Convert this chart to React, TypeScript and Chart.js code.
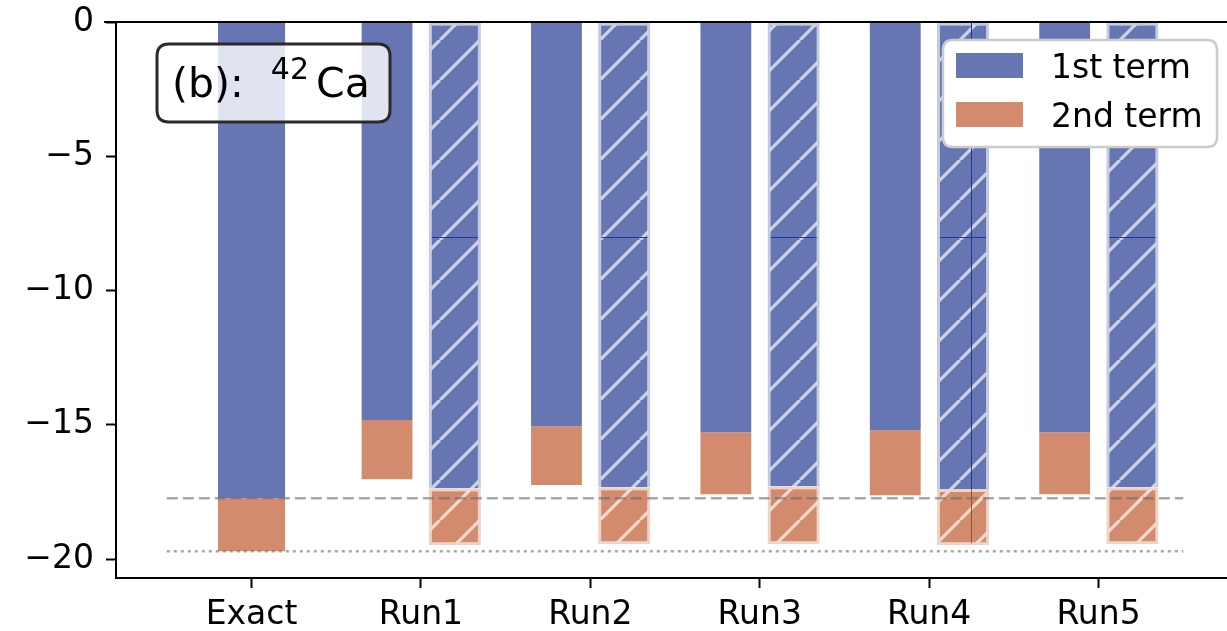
import { useEffect, useRef } from 'react';
import { Chart, registerables } from 'chart.js';

Chart.register(...registerables);

// Categories along the x axis
const categories = ['Exact', 'Run1', 'Run2', 'Run3', 'Run4', 'Run5'];

// Exact decomposition: first and second term
const exactFirst = -17.73;
const exactSecond = -1.97;

// Runs, plain bars (left of each run tick)
const runFirst = [-14.82, -15.05, -15.27, -15.2, -15.27];
const runSecond = [-2.2, -2.19, -2.31, -2.42, -2.31];

// Runs, hatched bars (right of each run tick)
const hatchFirst = [-17.36, -17.32, -17.28, -17.39, -17.32];
const hatchSecond = [-2.12, -2.12, -2.16, -2.09, -2.12];

const yTicks = [0, -5, -10, -15, -20];
const seriesLabels = ['1st term', '2nd term'];

// Panel tag: "(b): ^42Ca"
const panelTag = '(b):';
const isotopeMass = '42';
const isotopeSymbol = 'Ca';

// Thin inner rules seen on the hatched bars
const hatchRuleLevel = -8;
const hatchRuleX = 4.25;

// Offset of the paired bars from each run tick
const runOffset = 0.2;

const BLUE = 'rgb(102,118,178)';
const ORANGE = 'rgb(210,139,108)';
const BLUE_EDGE = 'rgb(196,202,225)';
const ORANGE_EDGE = 'rgb(238,211,199)';
const FONT = 'DejaVu Sans';
const TICK_SIZE = 33;

function makeHatch(base: string): CanvasPattern | string {
  const p = 40;
  const c = document.createElement('canvas');
  c.width = p;
  c.height = p;
  const g = c.getContext('2d');
  if (!g) return base;
  g.fillStyle = base;
  g.fillRect(0, 0, p, p);
  g.strokeStyle = 'rgba(255,255,255,0.68)';
  g.lineWidth = 3.2;
  g.beginPath();
  for (let k = -1; k <= 1; k++) {
    g.moveTo(k * p, p);
    g.lineTo(k * p + p, 0);
  }
  g.stroke();
  const pat = g.createPattern(c, 'repeat');
  return pat || base;
}

const minus = (v: number) => (v < 0 ? '\u2212' + Math.abs(v) : String(v));

function roundRect(ctx: CanvasRenderingContext2D, x: number, y: number, w: number, h: number, r: number) {
  ctx.beginPath();
  ctx.moveTo(x + r, y);
  ctx.lineTo(x + w - r, y);
  ctx.quadraticCurveTo(x + w, y, x + w, y + r);
  ctx.lineTo(x + w, y + h - r);
  ctx.quadraticCurveTo(x + w, y + h, x + w - r, y + h);
  ctx.lineTo(x + r, y + h);
  ctx.quadraticCurveTo(x, y + h, x, y + h - r);
  ctx.lineTo(x, y + r);
  ctx.quadraticCurveTo(x, y, x + r, y);
  ctx.closePath();
}

const decorPlugin = {
  id: 'decor',
  afterDatasetsDraw(chart: any) {
    const { ctx, scales } = chart;
    const xs = scales.x;
    const ys = scales.y;
    ctx.save();
    // horizontal inner rule across each hatched first-term bar
    const meta = chart.getDatasetMeta(6);
    const yr = Math.round(ys.getPixelForValue(hatchRuleLevel)) + 0.5;
    ctx.strokeStyle = 'rgb(35,55,155)';
    ctx.lineWidth = 1;
    meta.data.forEach((el: any) => {
      const { x, width } = el.getProps(['x', 'width'], true);
      ctx.beginPath();
      ctx.moveTo(x - width / 2 + 3, yr);
      ctx.lineTo(x + width / 2 - 3, yr);
      ctx.stroke();
    });
    // vertical inner rule through one hatched bar
    const i = Math.round(hatchRuleX - runOffset) - 1;
    const xv = Math.round(xs.getPixelForValue(hatchRuleX)) + 0.5;
    const yTop = ys.getPixelForValue(0);
    const yMid = ys.getPixelForValue(hatchFirst[i]);
    const yBot = ys.getPixelForValue(hatchFirst[i] + hatchSecond[i]);
    ctx.beginPath();
    ctx.moveTo(xv, yTop);
    ctx.lineTo(xv, yMid);
    ctx.stroke();
    ctx.strokeStyle = 'rgb(160,80,45)';
    ctx.beginPath();
    ctx.moveTo(xv, yMid);
    ctx.lineTo(xv, yBot - 2);
    ctx.stroke();
    ctx.restore();
  },
  afterDraw(chart: any) {
    const { ctx, chartArea, scales } = chart;
    const ys = scales.y;
    ctx.save();

    // top frame line at y = 0
    const y0 = Math.round(ys.getPixelForValue(0));
    ctx.strokeStyle = '#000';
    ctx.lineWidth = 2;
    ctx.beginPath();
    ctx.moveTo(chartArea.left - 12, y0);
    ctx.lineTo(chart.width, y0);
    ctx.stroke();

    // panel tag box
    const bx = chartArea.left + 41;
    const by = chartArea.top + 22;
    roundRect(ctx, bx, by, 233, 78, 12);
    ctx.fillStyle = 'rgba(255,255,255,0.8)';
    ctx.fill();
    ctx.strokeStyle = '#2a2a2a';
    ctx.lineWidth = 3;
    ctx.stroke();
    ctx.fillStyle = '#000';
    ctx.textBaseline = 'alphabetic';
    ctx.textAlign = 'left';
    ctx.font = `41px "${FONT}"`;
    let tx = bx + 15;
    const base = by + 53;
    ctx.fillText(panelTag, tx, base);
    tx += ctx.measureText(panelTag).width + 27;
    ctx.font = `30px "${FONT}"`;
    ctx.fillText(isotopeMass, tx, base - 18);
    tx += ctx.measureText(isotopeMass).width + 7;
    ctx.font = `41px "${FONT}"`;
    ctx.fillText(isotopeSymbol, tx, base);

    // legend
    const lx = 943;
    const ly = chartArea.top + 18;
    roundRect(ctx, lx, ly, 274, 107, 10);
    ctx.fillStyle = '#fff';
    ctx.fill();
    ctx.strokeStyle = '#cccccc';
    ctx.lineWidth = 2.5;
    ctx.stroke();
    const swatch = [BLUE, ORANGE];
    ctx.font = `${TICK_SIZE}px "${FONT}"`;
    seriesLabels.forEach((lab, k) => {
      const cy = ly + 26 + k * 49;
      ctx.fillStyle = swatch[k];
      ctx.fillRect(lx + 13, cy - 13, 67, 25);
      ctx.fillStyle = '#000';
      ctx.fillText(lab, lx + 108, cy + 12);
    });
    ctx.restore();
  },
};

export default function App() {
  const ref = useRef<HTMLCanvasElement>(null);

  useEffect(() => {
    if (!ref.current) return;
    Chart.defaults.font.family = FONT;
    const blueHatch = makeHatch(BLUE);
    const orangeHatch = makeHatch(ORANGE);
    const runX = (i: number, s: number) => i + 1 + s * runOffset;
    const refLine = (y: number) => [
      { x: -0.5, y },
      { x: 5.5, y },
    ];
    const barCommon = { type: 'bar' as const, grouped: false, categoryPercentage: 1, order: 1 };

    const chart = new Chart(ref.current, {
      type: 'bar',
      data: {
        datasets: [
          {
            type: 'line',
            label: 'exact-first',
            data: refLine(exactFirst),
            borderColor: 'rgba(110,110,110,0.6)',
            borderWidth: 2.5,
            borderDash: [11, 5],
            pointRadius: 0,
            order: 0,
          },
          {
            type: 'line',
            label: 'exact-total',
            data: refLine(exactFirst + exactSecond),
            borderColor: 'rgba(110,110,110,0.6)',
            borderWidth: 2.5,
            borderDash: [3, 4],
            pointRadius: 0,
            order: 0,
          },
          {
            ...barCommon,
            label: seriesLabels[0],
            data: [{ x: 0, y: [0, exactFirst] }],
            backgroundColor: BLUE,
            barPercentage: 0.99,
          },
          {
            ...barCommon,
            label: seriesLabels[1],
            data: [{ x: 0, y: [exactFirst, exactFirst + exactSecond] }],
            backgroundColor: ORANGE,
            barPercentage: 0.99,
          },
          {
            ...barCommon,
            label: seriesLabels[0],
            data: runFirst.map((v, i) => ({ x: runX(i, -1), y: [0, v] })),
            backgroundColor: BLUE,
            barPercentage: 0.75,
          },
          {
            ...barCommon,
            label: seriesLabels[1],
            data: runFirst.map((v, i) => ({ x: runX(i, -1), y: [v, v + runSecond[i]] })),
            backgroundColor: ORANGE,
            barPercentage: 0.75,
          },
          {
            ...barCommon,
            label: seriesLabels[0],
            data: hatchFirst.map((v, i) => ({ x: runX(i, 1), y: [0, v] })),
            backgroundColor: blueHatch,
            borderColor: BLUE_EDGE,
            borderWidth: 3,
            borderSkipped: 'top',
            barPercentage: 0.77,
          },
          {
            ...barCommon,
            label: seriesLabels[1],
            data: hatchFirst.map((v, i) => ({ x: runX(i, 1), y: [v, v + hatchSecond[i]] })),
            backgroundColor: orangeHatch,
            borderColor: ORANGE_EDGE,
            borderWidth: 3,
            borderSkipped: false,
            barPercentage: 0.77,
          },
        ] as any,
      },
      options: {
        animation: false,
        responsive: false,
        devicePixelRatio: 1,
        layout: { padding: { top: 22, left: 0, right: 0, bottom: 0 } },
        plugins: {
          legend: { display: false },
          tooltip: { enabled: false },
        },
        scales: {
          x: {
            type: 'linear',
            offset: false,
            min: -0.8,
            max: 5.835,
            afterBuildTicks: (s: any) => {
              s.ticks = categories.map((_, i) => ({ value: i }));
            },
            afterFit: (s: any) => {
              s.height = 53;
              s.paddingLeft = 0;
              s.paddingRight = 0;
            },
            ticks: {
              autoSkip: false,
              maxRotation: 0,
              padding: 8,
              color: '#000',
              font: { family: FONT, size: TICK_SIZE },
              callback: (v: any) => categories[Number(v)] ?? '',
            },
            grid: {
              offset: false,
              drawOnChartArea: false,
              drawTicks: true,
              tickLength: 10,
              tickWidth: 2,
              tickColor: '#000',
            },
            border: { display: true, color: '#000', width: 2 },
          },
          y: {
            type: 'linear',
            min: -20.7,
            max: 0,
            afterBuildTicks: (s: any) => {
              s.ticks = yTicks.map((v) => ({ value: v }));
            },
            afterFit: (s: any) => {
              s.width = 116;
              s.paddingTop = 0;
              s.paddingBottom = 0;
            },
            ticks: {
              padding: 12,
              color: '#000',
              font: { family: FONT, size: TICK_SIZE },
              callback: (v: any) => minus(Number(v)),
            },
            grid: { drawOnChartArea: false, drawTicks: true, tickLength: 10, tickWidth: 2, tickColor: '#000' },
            border: { display: true, color: '#000', width: 2 },
          },
        },
      },
      plugins: [decorPlugin],
    });
    return () => chart.destroy();
  }, []);

  return (
    <div
      style={{
        position: 'fixed',
        left: 0,
        top: 0,
        width: 1227,
        height: 631,
        overflow: 'hidden',
        background: '#fff',
      }}
    >
      <canvas ref={ref} width={1240} height={631} style={{ display: 'block' }} />
    </div>
  );
}
